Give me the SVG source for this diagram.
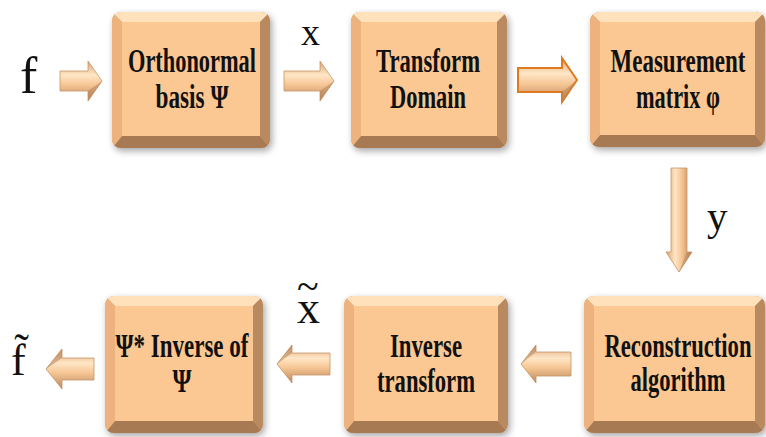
<svg xmlns="http://www.w3.org/2000/svg" width="766" height="437" viewBox="0 0 766 437">
<defs>
<filter id="sh" x="-10%" y="-10%" width="125%" height="125%">
<feDropShadow dx="2" dy="3" stdDeviation="3.5" flood-color="#000" flood-opacity="0.35"/>
</filter>
<clipPath id="rc" clipPathUnits="objectBoundingBox"><rect width="1" height="1" rx="0.055" ry="0.065"/></clipPath>
<linearGradient id="ag" x1="0" y1="0" x2="0" y2="1">
<stop offset="0" stop-color="#D9A271"/><stop offset="0.35" stop-color="#FFE6C6"/><stop offset="0.6" stop-color="#F6C594"/><stop offset="1" stop-color="#B9875A"/>
</linearGradient>
<linearGradient id="agv" x1="0" y1="0" x2="1" y2="0">
<stop offset="0" stop-color="#D9A271"/><stop offset="0.35" stop-color="#FFE6C6"/><stop offset="0.6" stop-color="#F6C594"/><stop offset="1" stop-color="#B9875A"/>
</linearGradient>
<style>
.face{fill:#FBC792}
.bt{fill:#FFE2BC}
.bb{fill:#A87A52}
.bl{fill:#EDB27E}
.br{fill:#B9895E}
.lbl{font-family:"Liberation Serif","Times New Roman",serif;font-weight:bold;font-size:33px;fill:#111;text-anchor:middle}
.var{font-family:"Liberation Serif","Times New Roman",serif;fill:#111}
.arr{fill:url(#ag);stroke:#C79467;stroke-width:0.8}
.arrv{fill:url(#agv);stroke:#C79467;stroke-width:0.8}
.hd{fill:#B5835A;opacity:0.55}
</style>
</defs>
<rect width="766" height="437" fill="#fff"/>

<g id="node-orthonormal" transform="translate(112,12)">
<g filter="url(#sh)"><g clip-path="url(#rc)">
<rect width="158" height="136" fill="#D9A070"/>
<polygon class="bt" points="0,0 158,0 148,10 10,10"/>
<polygon class="bb" points="0,136 158,136 148,124 10,124"/>
<polygon class="bl" points="0,0 10,10 10,124 0,136"/>
<polygon class="br" points="158,0 148,10 148,124 158,136"/>
<rect class="face" x="10" y="10" width="138" height="114"/>
</g></g>
<text class="lbl" x="80" y="60" textLength="128" lengthAdjust="spacingAndGlyphs">Orthonormal</text>
<text class="lbl" x="80" y="96" textLength="73" lengthAdjust="spacingAndGlyphs">basis Ψ</text>
</g>

<g id="node-transform-domain" transform="translate(351,12)">
<g filter="url(#sh)"><g clip-path="url(#rc)">
<rect width="156" height="136" fill="#D9A070"/>
<polygon class="bt" points="0,0 156,0 146,10 10,10"/>
<polygon class="bb" points="0,136 156,136 146,124 10,124"/>
<polygon class="bl" points="0,0 10,10 10,124 0,136"/>
<polygon class="br" points="156,0 146,10 146,124 156,136"/>
<rect class="face" x="10" y="10" width="136" height="114"/>
</g></g>
<text class="lbl" x="77" y="60" textLength="104" lengthAdjust="spacingAndGlyphs">Transform</text>
<text class="lbl" x="77" y="96" textLength="76" lengthAdjust="spacingAndGlyphs">Domain</text>
</g>

<g id="node-measurement" transform="translate(590,12)">
<g filter="url(#sh)"><g clip-path="url(#rc)">
<rect width="175" height="135" fill="#D9A070"/>
<polygon class="bt" points="0,0 175,0 165,10 10,10"/>
<polygon class="bb" points="0,135 175,135 165,123 10,123"/>
<polygon class="bl" points="0,0 10,10 10,123 0,135"/>
<polygon class="br" points="175,0 165,10 165,123 175,135"/>
<rect class="face" x="10" y="10" width="155" height="113"/>
</g></g>
<text class="lbl" x="88" y="60" textLength="135" lengthAdjust="spacingAndGlyphs">Measurement</text>
<text class="lbl" x="88" y="96" textLength="84" lengthAdjust="spacingAndGlyphs">matrix φ</text>
</g>

<g id="node-inverse-psi" transform="translate(105,296)">
<g filter="url(#sh)"><g clip-path="url(#rc)">
<rect width="158" height="137" fill="#D9A070"/>
<polygon class="bt" points="0,0 158,0 148,10 10,10"/>
<polygon class="bb" points="0,137 158,137 148,125 10,125"/>
<polygon class="bl" points="0,0 10,10 10,125 0,137"/>
<polygon class="br" points="158,0 148,10 148,125 158,137"/>
<rect class="face" x="10" y="10" width="138" height="115"/>
</g></g>
<text class="lbl" x="77" y="61" textLength="133" lengthAdjust="spacingAndGlyphs">Ψ* Inverse of</text>
<text class="lbl" x="77" y="96" textLength="19" lengthAdjust="spacingAndGlyphs">Ψ</text>
</g>

<g id="node-inverse-transform" transform="translate(344,296)">
<g filter="url(#sh)"><g clip-path="url(#rc)">
<rect width="164" height="137" fill="#D9A070"/>
<polygon class="bt" points="0,0 164,0 154,10 10,10"/>
<polygon class="bb" points="0,137 164,137 154,125 10,125"/>
<polygon class="bl" points="0,0 10,10 10,125 0,137"/>
<polygon class="br" points="164,0 154,10 154,125 164,137"/>
<rect class="face" x="10" y="10" width="144" height="115"/>
</g></g>
<text class="lbl" x="82" y="61" textLength="72" lengthAdjust="spacingAndGlyphs">Inverse</text>
<text class="lbl" x="82" y="96" textLength="98" lengthAdjust="spacingAndGlyphs">transform</text>
</g>

<g id="node-reconstruction" transform="translate(584,296)">
<g filter="url(#sh)"><g clip-path="url(#rc)">
<rect width="181" height="137" fill="#D9A070"/>
<polygon class="bt" points="0,0 181,0 171,10 10,10"/>
<polygon class="bb" points="0,137 181,137 171,125 10,125"/>
<polygon class="bl" points="0,0 10,10 10,125 0,137"/>
<polygon class="br" points="181,0 171,10 171,125 181,137"/>
<rect class="face" x="10" y="10" width="161" height="115"/>
</g></g>
<text class="lbl" x="94" y="61" textLength="147" lengthAdjust="spacingAndGlyphs">Reconstruction</text>
<text class="lbl" x="94" y="95" textLength="95" lengthAdjust="spacingAndGlyphs">algorithm</text>
</g>

<g id="connectors">
<polygon class="arr" points="60,71 88,71 88,61 102,81 88,101 88,91 60,91"/>
<polygon class="hd" points="88,91 102,81 88,101"/>
<polygon class="arr" points="284,71 320,71 320,61 334,81 320,101 320,91 284,91"/>
<polygon class="hd" points="320,91 334,81 320,101"/>
<polygon class="arr" style="stroke:#E07A20;stroke-width:2" points="518,68 562,68 562,58 577,80 562,102 562,92 518,92"/>
<polygon class="hd" points="562,92 577,80 562,102"/>
<polygon class="arrv" points="671,168 687,168 687,252 692,252 679,272 666,252 671,252"/>
<polygon class="hd" points="687,252 692,252 679,272"/>
<polygon class="arr" points="571,352 536,352 536,345 521,364 536,383 536,376 571,376"/>
<polygon class="hd" points="536,345 521,364 536,352"/>
<polygon class="arr" points="330,353 292,353 292,345 277,364 292,383 292,375 330,375"/>
<polygon class="hd" points="292,345 277,364 292,353"/>
<polygon class="arr" points="94,358 62,358 62,349 46,369 62,389 62,380 94,380"/>
<polygon class="hd" points="62,349 46,369 62,358"/>
</g>

<g id="labels">
<text class="var" x="20" y="93" font-size="52">f</text>
<text class="var" x="301" y="45" font-size="38">x</text>
<text class="var" x="707" y="230" font-size="41">y</text>
<text class="var" x="297" y="323" font-size="46">x</text>
<text class="var" x="297" y="300" font-size="40">~</text>
<text class="var" x="11" y="375" font-size="44">f̃</text>
</g>
</svg>
